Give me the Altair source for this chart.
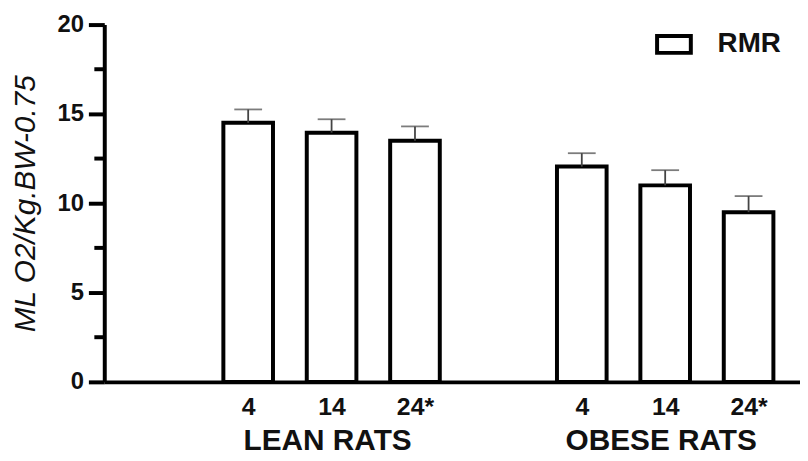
import altair as alt
import pandas as pd

groups = ["LEAN RATS", "OBESE RATS"]
weeks = ["4", "14", "24*"]
group_index = [0, 0, 0, 1, 1, 1]
week_index = [0, 1, 2, 0, 1, 2]
tick_labels = ["4", "14", "24*", "4", "14", "24*"]
rmr_mean = [14.5, 13.95, 13.5, 12.05, 11.0, 9.5]
rmr_sem = [0.75, 0.75, 0.8, 0.75, 0.85, 0.9]
series = "RMR"
major_ticks = [0, 5, 10, 15, 20]
minor_ticks = [2.5, 7.5, 12.5, 17.5]

pos = [g * 4 + w + 2 for g, w in zip(group_index, week_index)]
df = pd.DataFrame({
    "pos": pos,
    "label": tick_labels,
    "mean": rmr_mean,
    "upper": [m + s for m, s in zip(rmr_mean, rmr_sem)],
    "series": [series] * len(pos),
})
gdf = pd.DataFrame({"group": groups, "pos": [g * 4 + 3 for g in range(len(groups))]})
mdf = pd.DataFrame({"v": minor_ticks})

W, H = 701, 360
FONT = "Liberation Sans"

label_expr = " : ".join(
    f"datum.value == {p} ? '{l}'" for p, l in zip(pos, tick_labels)
) + " : ''"

xscale = alt.Scale(domain=[0.334, 8.557], nice=False, zero=False)
yscale = alt.Scale(domain=[0, 20], nice=False)

x_axis = alt.Axis(values=pos, labelExpr=label_expr, ticks=False, tickSize=0,
                  domainWidth=4, domainColor="black", labelFont=FONT,
                  labelFontSize=25, labelFontWeight="bold", labelColor="#111",
                  labelPadding=13, grid=False, title=None)
y_axis = alt.Axis(values=major_ticks, orient="left", tickSize=16,
                  tickWidth=4, tickColor="black", domainWidth=4,
                  domainColor="black", labelFont=FONT, labelFontSize=24,
                  labelFontWeight="bold", labelColor="#111", labelPadding=5,
                  grid=False, title="ML O2/Kg.BW-0.75", titleFont=FONT,
                  titleFontSize=30, titleFontStyle="italic",
                  titleFontWeight="normal", titleColor="#111", titleX=-79,
                  titleY=H / 2, titleAngle=-90, titleAlign="center",
                  titleBaseline="middle")

base = alt.Chart(df)

bars = base.mark_bar(size=50, fill="white", strokeWidth=4).encode(
    x=alt.X("pos:Q", scale=xscale, axis=x_axis),
    y=alt.Y("mean:Q", scale=yscale, axis=y_axis),
    stroke=alt.Stroke("series:N", scale=alt.Scale(range=["black"]),
                      legend=alt.Legend(title=None, orient="none",
                                        legendX=555, legendY=1,
                                        symbolType="M-1,-0.5H1V0.5H-1Z",
                                        symbolSize=1156, symbolStrokeWidth=4,
                                        symbolFillColor="white",
                                        labelFont=FONT, labelFontSize=28,
                                        labelFontWeight="bold",
                                        labelColor="#111", labelOffset=25,
                                        padding=0)),
)

err = base.mark_rule(strokeWidth=1.8, color="#444").encode(
    x="pos:Q", y=alt.Y("mean:Q", scale=yscale, axis=None), y2="upper:Q")
caps = base.mark_tick(orient="horizontal", size=28, thickness=1.8,
                      color="#444").encode(
    x="pos:Q", y=alt.Y("upper:Q", scale=yscale, axis=None))

minor = alt.Chart(mdf).mark_rule(strokeWidth=4, color="black", clip=False).encode(
    y=alt.Y("v:Q", scale=yscale, axis=None),
    x=alt.value(-10), x2=alt.value(0))

group_text = alt.Chart(gdf).mark_text(font=FONT, fontSize=30, fontWeight="bold",
                                      color="#111", baseline="alphabetic",
                                      dx=-4).encode(
    x=alt.X("pos:Q", scale=xscale), y=alt.value(H + 69), text="group:N")

chart = alt.layer(bars, minor, err, caps, group_text).resolve_axis(
    y="independent").properties(
    width=W, height=H,
    autosize=alt.AutoSizeParams(type="none"),
    padding={"left": 97, "top": 15, "right": 0, "bottom": 75},
).configure_view(stroke=None)

chart.save("out.html", embed_options={"renderer": "svg", "actions": False})
